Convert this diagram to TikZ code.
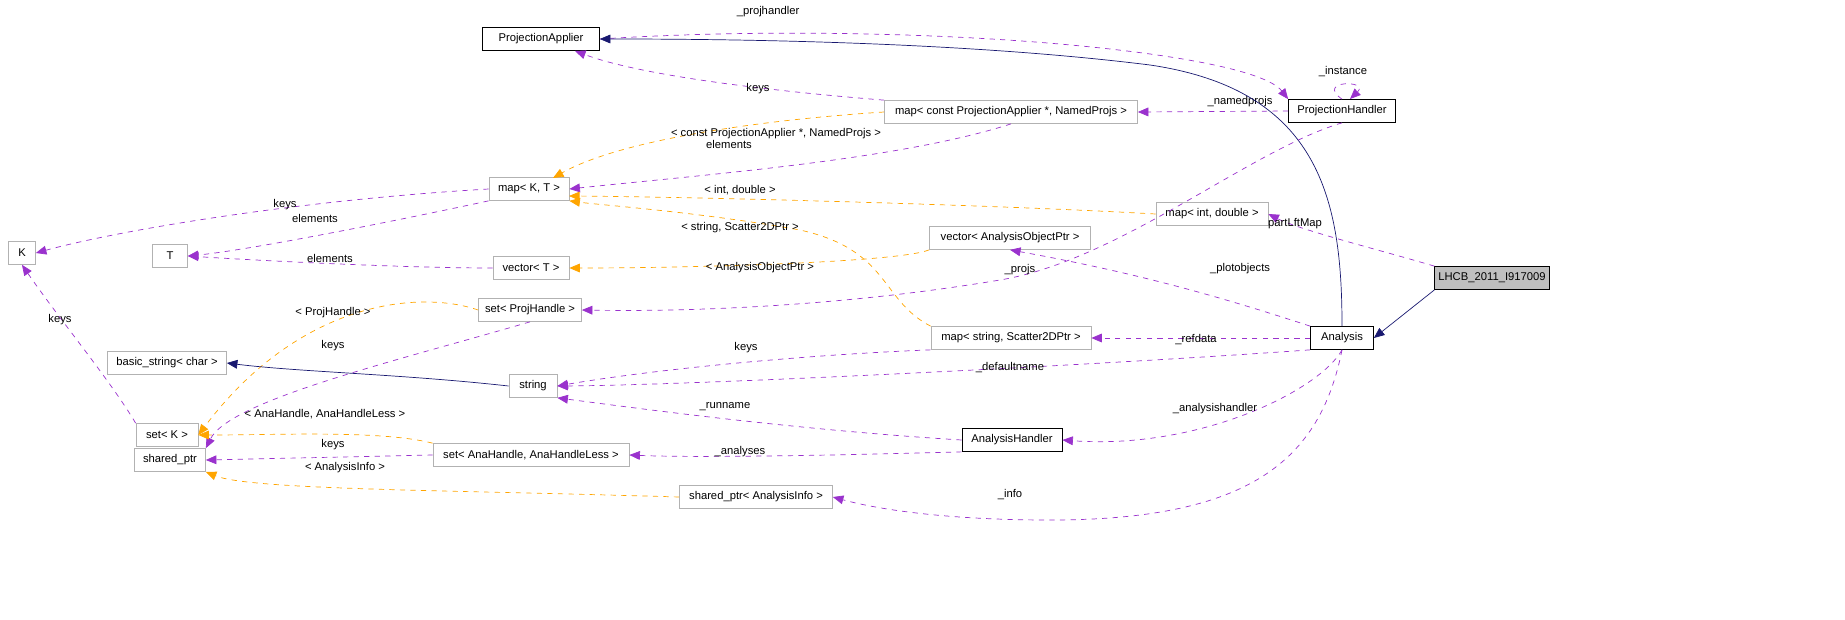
\documentclass[tikz,border=0pt]{standalone}
\usepackage{fontspec}
\setmainfont{Liberation Sans}
\usetikzlibrary{arrows.meta}
\begin{document}
\begin{tikzpicture}[x=0.02cm,y=-0.02cm,
  every node/.style={font=\fontsize{6.4}{7.5}\selectfont},
  box/.style={draw=black!30,fill=white,minimum height=0.46cm,inner sep=2pt},
  bbox/.style={box,draw=black},
  lbl/.style={fill=none,inner sep=1pt},
  pu/.style={draw={rgb,255:red,154;green,50;blue,205},dashed,-{Triangle[length=6pt,width=5pt]}},
  orr/.style={draw={rgb,255:red,255;green,165;blue,0},dashed,-{Triangle[length=6pt,width=5pt]}},
  nv/.style={draw={rgb,255:red,25;green,25;blue,112},-{Triangle[length=6pt,width=5pt]}}]
\useasboundingbox (0,0) rectangle (1845,619);
\node[bbox,minimum width=117*0.02cm] (PA) at (541,39) {ProjectionApplier};
\node[bbox,minimum width=107*0.02cm] (PH) at (1342,111) {ProjectionHandler};
\node[box,minimum width=253*0.02cm] (MC) at (1011,112) {map< const ProjectionApplier *, NamedProjs >};
\node[box,minimum width=80*0.02cm] (MKT) at (529,189) {map< K, T >};
\node[box,minimum width=27*0.02cm] (K) at (22,253) {K};
\node[box,minimum width=35*0.02cm] (T) at (170,256) {T};
\node[box,minimum width=112*0.02cm] (MID) at (1212,214) {map< int, double >};
\node[box,minimum width=161*0.02cm] (VAO) at (1010,238) {vector< AnalysisObjectPtr >};
\node[box,minimum width=76*0.02cm] (VT) at (531,268) {vector< T >};
\node[box,minimum width=103*0.02cm] (SPH) at (530,310) {set< ProjHandle >};
\node[bbox,fill=black!25,minimum width=111*0.02cm] (L) at (1492,278) {LHCB\_2011\_I917009};
\node[bbox,minimum width=63*0.02cm] (A) at (1342,338) {Analysis};
\node[box,minimum width=160*0.02cm] (MSS) at (1011,338) {map< string, Scatter2DPtr >};
\node[box,minimum width=119*0.02cm] (BS) at (167,363) {basic\_string< char >};
\node[box,minimum width=48*0.02cm] (S) at (533,386) {string};
\node[box,minimum width=62*0.02cm] (SK) at (167,435) {set< K >};
\node[bbox,minimum width=100*0.02cm] (AH) at (1012,440) {AnalysisHandler};
\node[box,minimum width=71*0.02cm] (SP) at (170,460) {shared\_ptr};
\node[box,minimum width=196*0.02cm] (SAH) at (531,455) {set< AnaHandle, AnaHandleLess >};
\node[box,minimum width=153*0.02cm] (SPI) at (756,497) {shared\_ptr< AnalysisInfo >};

\draw[pu] (PA.east) .. controls (900,20) and (1250,50) .. (PH.north west) ;
\node[lbl] at (768,12) {\_projhandler};
\draw[pu] (PH.north) .. controls (1315,80) and (1370,80) .. (1350,99);
\node[lbl] at (1343,72) {\_instance};
\draw[pu] (MC.north west) .. controls (760,90) and (640,75) .. (575,51);
\node[lbl] at (758,89) {keys};
\draw[pu] (PH.west) -- (MC.east);
\node[lbl] at (1240,102) {\_namedprojs};
\draw[nv] (A.north) .. controls (1342,200) and (1320,90) .. (1150,65) .. controls (950,40) and (700,39) .. (PA.east);
\draw[nv] (L.south west) -- (A.east);
\draw[orr] (MC.west) .. controls (760,120) and (620,140) .. (553,178);
\node[lbl] at (776,134) {< const ProjectionApplier *, NamedProjs >};
\draw[pu] (MC.south) .. controls (900,160) and (700,175) .. (MKT.east);
\node[lbl] at (729,144) {elements};
\draw[pu] (MKT.west) .. controls (300,200) and (120,230) .. (K.east);
\node[lbl] at (285,205) {keys};
\draw[pu] (MKT.south west) .. controls (400,220) and (250,250) .. (T.east);
\node[lbl] at (315,218) {elements};
\draw[orr] (MID.west) .. controls (1000,205) and (700,197) .. (569,196);
\node[lbl] at (740,190) {< int, double >};
\draw[pu] (L.north west) .. controls (1380,250) and (1300,230) .. (MID.east);
\node[lbl] at (1295,224) {partLftMap};
\draw[orr] (VAO.south west) .. controls (900,262) and (700,268) .. (VT.east);
\node[lbl] at (760,268) {< AnalysisObjectPtr >};
\draw[pu] (VT.west) .. controls (400,268) and (250,260) .. (T.east);
\node[lbl] at (330,258) {elements};
\draw[orr] (MSS.north west) .. controls (880,300) and (890,250) .. (800,230) .. controls (700,212) and (600,205) .. (MKT.south east);
\node[lbl] at (740,228) {< string, Scatter2DPtr >};
\draw[pu] (A.north west) .. controls (1200,290) and (1120,270) .. (VAO.south);
\node[lbl] at (1240,269) {\_plotobjects};
\draw[pu] (PH.south) .. controls (1250,150) and (1120,260) .. (1000,280) .. controls (850,305) and (700,312) .. (SPH.east);
\node[lbl] at (1020,270) {\_projs};
\draw[orr] (SPH.west) .. controls (420,290) and (300,300) .. (SK.east);
\node[lbl] at (333,313) {< ProjHandle >};
\draw[pu] (SPH.south) .. controls (400,360) and (230,400) .. (SP.north east);
\node[lbl] at (333,346) {keys};
\draw[pu] (A.west) -- (MSS.east);
\node[lbl] at (1196,340) {\_refdata};
\draw[pu] (MSS.south west) .. controls (800,355) and (650,370) .. (S.east);
\node[lbl] at (746,348) {keys};
\draw[pu] (A.south west) .. controls (1100,365) and (700,385) .. (S.east);
\node[lbl] at (1010,368) {\_defaultname};
\draw[nv] (S.west) .. controls (400,374) and (300,372) .. (BS.east);
\draw[pu] (SK.north west) .. controls (110,380) and (60,320) .. (K.south);
\node[lbl] at (60,320) {keys};
\draw[pu] (AH.west) .. controls (800,430) and (650,410) .. (S.south east);
\node[lbl] at (725,407) {\_runname};
\draw[pu] (A.south) .. controls (1320,390) and (1200,450) .. (AH.east);
\node[lbl] at (1215,409) {\_analysishandler};
\draw[orr] (SAH.north west) .. controls (380,430) and (280,435) .. (SK.east);
\node[lbl] at (325,414) {< AnaHandle, AnaHandleLess >};
\draw[pu] (AH.south west) .. controls (850,455) and (700,458) .. (SAH.east);
\node[lbl] at (740,452) {\_analyses};
\draw[pu] (SAH.west) -- (SP.east);
\node[lbl] at (333,445) {keys};
\draw[orr] (SPI.west) .. controls (450,490) and (250,490) .. (SP.south east);
\node[lbl] at (345,468) {< AnalysisInfo >};
\draw[pu] (A.south) .. controls (1320,460) and (1250,520) .. (1050,520) .. controls (950,520) and (880,510) .. (SPI.east);
\node[lbl] at (1010,495) {\_info};
\end{tikzpicture}
\end{document}
